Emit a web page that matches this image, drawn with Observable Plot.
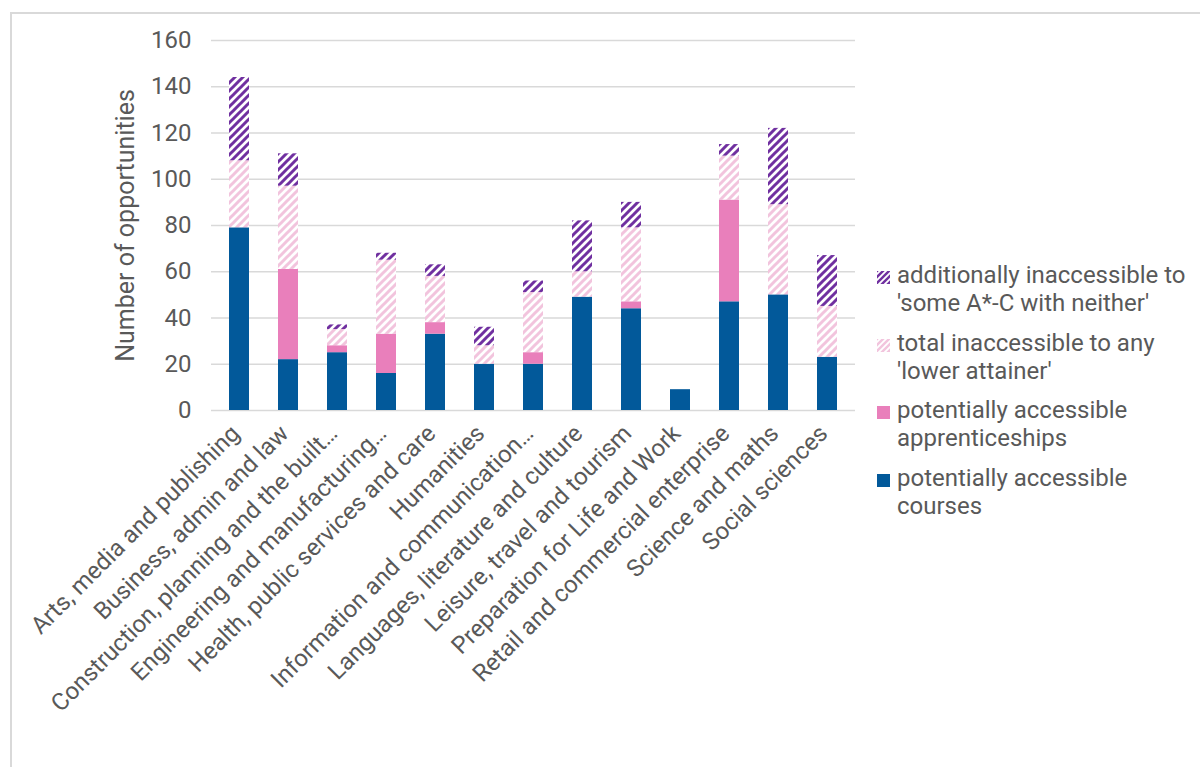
<!DOCTYPE html>
<html>
<head>
<meta charset="utf-8">
<script src="https://cdn.jsdelivr.net/npm/d3@7"></script>
<script src="https://cdn.jsdelivr.net/npm/@observablehq/plot@0.6"></script>
<style>
  html, body { margin: 0; padding: 0; background: #fff; }
  #wrap { position: relative; width: 1200px; height: 767px; overflow: hidden; font-family: Roboto, "Noto Sans", sans-serif; color: #595959; }
  #frame { position: absolute; left: 10px; top: 12px; width: 1300px; height: 900px; border-top: 2px solid #d9d9d9; border-left: 2px solid #d9d9d9; }
  #chart { position: absolute; left: 0; top: 0; }
  #legend { position: absolute; left: 877px; top: 261px; font-size: 24px; line-height: 28px; }
  .entry { display: flex; align-items: flex-start; margin-bottom: 11.5px; }
  .entry svg { flex: none; margin-top: 10px; margin-right: 7px; }
  .entry span { width: 293px; }
</style>
</head>
<body>
<div id="wrap">
  <div id="frame"></div>
  <div id="chart"></div>
  <div id="legend"></div>
</div>
<script>
const categories = [
  "Arts, media and publishing",
  "Business, admin and law",
  "Construction, planning and the built…",
  "Engineering and manufacturing…",
  "Health, public services and care",
  "Humanities",
  "Information and communication…",
  "Languages, literature and culture",
  "Leisure, travel and tourism",
  "Preparation for Life and Work",
  "Retail and commercial enterprise",
  "Science and maths",
  "Social sciences"
];
const seriesNames = [
  "potentially accessible courses",
  "potentially accessible apprenticeships",
  "total inaccessible to any 'lower attainer'",
  "additionally inaccessible to 'some A*-C with neither'"
];
const courses = [79, 22, 25, 16, 33, 20, 20, 49, 44, 9, 47, 50, 23];
const apprenticeships = [0, 39, 3, 17, 5, 0, 5, 0, 3, 0, 44, 0, 0];
const totalInaccessible = [29, 36, 7, 32, 20, 8, 26, 11, 32, 0, 19, 39, 22];
const additionallyInaccessible = [36, 14, 2, 3, 5, 8, 5, 22, 11, 0, 5, 33, 22];
const yTicks = [0, 20, 40, 60, 80, 100, 120, 140, 160];

const seriesValues = [courses, apprenticeships, totalInaccessible, additionallyInaccessible];
const seriesFills = ["#02599A", "#E97FBB", "url(#hatchPink)", "url(#hatchPurple)"];

const rows = [];
categories.forEach((c, i) => {
  seriesNames.forEach((s, j) => {
    rows.push({category: c, series: s, value: seriesValues[j][i]});
  });
});

const chart = Plot.plot({
  width: 1200,
  height: 767,
  marginLeft: 211,
  marginRight: 345,
  marginTop: 40,
  marginBottom: 357,
  style: {fontFamily: "Roboto, 'Noto Sans', sans-serif", color: "#595959", background: "transparent", overflow: "visible"},
  x: {domain: categories, paddingInner: 0.6, paddingOuter: 0.3, label: null},
  y: {domain: [0, 160], label: null},
  color: {domain: seriesNames, range: seriesFills},
  marks: [
    Plot.gridY(yTicks, {stroke: "#d9d9d9", strokeOpacity: 1, strokeWidth: 1.5}),
    Plot.barY(rows, Plot.stackY({x: "category", y: "value", fill: "series", order: null})),
    Plot.axisY({ticks: yTicks, tickSize: 0, tickPadding: 20, fontSize: 24, label: null}),
    Plot.axisX({tickSize: 0, tickPadding: 19, dx: -4, tickRotate: -45, fontSize: 24, label: null}),
    Plot.text(["Number of opportunities"], {frameAnchor: "left", textAnchor: "middle", rotate: -90, dx: -86, fontSize: 25, fill: "#595959"})
  ]
});

const svg = d3.select(chart);
const defs = svg.insert("defs", ":first-child");
function addHatch(id, color, w) {
  const p = defs.append("pattern").attr("id", id).attr("patternUnits", "userSpaceOnUse")
    .attr("width", 8).attr("height", 8);
  p.append("rect").attr("width", 8).attr("height", 8).attr("fill", "#fff");
  p.append("path").attr("d", "M-2,2 L2,-2 M0,8 L8,0 M6,10 L10,6")
    .attr("stroke", color).attr("stroke-width", w).attr("stroke-linecap", "square");
}
addHatch("hatchPink", "#F2C4DD", 3);
addHatch("hatchPurple", "#7030A0", 3);
document.getElementById("chart").appendChild(chart);

// Legend (reversed order, like the reference)
const legend = d3.select("#legend");
const order = [3, 2, 1, 0];
order.forEach(j => {
  const e = legend.append("div").attr("class", "entry");
  const s = e.append("svg").attr("width", 13).attr("height", 13);
  const sd = s.append("defs");
  const pid = "lg" + j;
  if (j >= 2) {
    const p = sd.append("pattern").attr("id", pid).attr("patternUnits", "userSpaceOnUse").attr("width", 6).attr("height", 6);
    p.append("rect").attr("width", 6).attr("height", 6).attr("fill", "#fff");
    p.append("path").attr("d", "M-1.5,1.5 L1.5,-1.5 M0,6 L6,0 M4.5,7.5 L7.5,4.5")
      .attr("stroke", j === 3 ? "#7030A0" : "#F2C4DD").attr("stroke-width", 2.4);
    s.append("rect").attr("width", 13).attr("height", 13).attr("fill", `url(#${pid})`);
  } else {
    s.append("rect").attr("width", 13).attr("height", 13).attr("fill", seriesFills[j]);
  }
  e.append("span").text(seriesNames[j]);
});
</script>
</body>
</html>
